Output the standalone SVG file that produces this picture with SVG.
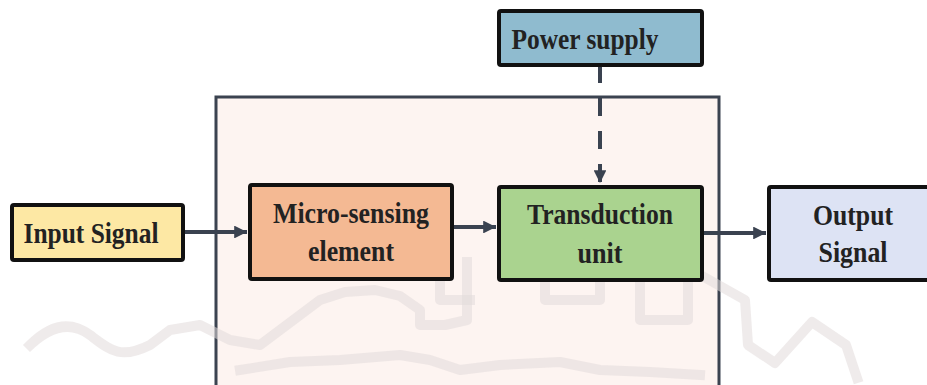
<svg xmlns="http://www.w3.org/2000/svg" width="927" height="385" viewBox="0 0 927 385">
  <style>
    .box { stroke: #111111; stroke-width: 4; }
    .lbl { font-family: "Liberation Serif", "Times New Roman", serif; font-weight: bold; font-size: 30px; fill: #222222; text-anchor: middle; }
    .conn { stroke: #3a4250; stroke-width: 4; fill: none; }
    .wm { stroke: #e2dada; stroke-width: 10; fill: none; stroke-linejoin: round; stroke-linecap: square; opacity: 0.55; }
  </style>
  <defs>
    <marker id="arrow" viewBox="0 0 10 10" refX="10" refY="5" markerWidth="3.2" markerHeight="3.2" orient="auto" markerUnits="strokeWidth">
      <path d="M0,0 L10,5 L0,10 Z" fill="#3a4250"/>
    </marker>
  </defs>
  <rect width="927" height="385" fill="#ffffff"/>

  <g id="container">
    <rect x="216" y="97" width="503" height="290" fill="#fdf4f1" stroke="#3b4350" stroke-width="3"/>
  </g>

  <g id="watermark">
    <path class="wm" d="M 30 345 C 50 325, 70 320, 90 335 S 120 360, 150 345 L 170 330 L 200 325 L 230 340 L 260 345 L 280 330 L 300 315 L 320 300 L 345 292 L 375 290 L 400 296 L 420 310 L 420 325 L 445 325 L 467 320 L 467 262"/>
    <path class="wm" d="M 440 262 L 440 300 L 470 300 M 545 262 L 545 300 L 600 300 L 600 262 M 640 262 L 640 320 L 688 320 L 688 268 L 745 300 L 748 345 L 775 363 L 812 322 L 846 345 L 857 378"/>
    <path class="wm" d="M 240 370 L 290 362 L 340 360 L 400 355 L 430 360 L 460 370 L 500 365 L 560 362 L 600 370 L 650 372 L 700 375"/>
  </g>

  <g id="connectors">
    <line class="conn" x1="183" y1="232" x2="247" y2="232" marker-end="url(#arrow)"/>
    <line class="conn" x1="452" y1="227" x2="496" y2="227" marker-end="url(#arrow)"/>
    <line class="conn" x1="702" y1="233" x2="766" y2="233" marker-end="url(#arrow)"/>
    <line class="conn" x1="600" y1="65" x2="600" y2="183" stroke-dasharray="18 15" marker-end="url(#arrow)"/>
  </g>

  <g id="input-signal">
    <rect class="box" x="12" y="205" width="171" height="55" rx="2" fill="#fde8a4"/>
    <text class="lbl" x="91" y="243" textLength="135" lengthAdjust="spacingAndGlyphs">Input Signal</text>
  </g>

  <g id="micro-sensing">
    <rect class="box" x="250" y="185" width="202" height="94" rx="2" fill="#f4b993"/>
    <text class="lbl" x="351" y="223" textLength="156" lengthAdjust="spacingAndGlyphs">Micro-sensing</text>
    <text class="lbl" x="351" y="261" textLength="86" lengthAdjust="spacingAndGlyphs">element</text>
  </g>

  <g id="transduction">
    <rect class="box" x="499" y="187" width="203" height="93" rx="2" fill="#aad38f"/>
    <text class="lbl" x="600" y="224" textLength="146" lengthAdjust="spacingAndGlyphs">Transduction</text>
    <text class="lbl" x="600" y="263" textLength="45" lengthAdjust="spacingAndGlyphs">unit</text>
  </g>

  <g id="power-supply">
    <rect class="box" x="499" y="11" width="203" height="54" rx="2" fill="#8fbbcf"/>
    <text class="lbl" x="585" y="49" textLength="147" lengthAdjust="spacingAndGlyphs">Power supply</text>
  </g>

  <g id="output-signal">
    <rect class="box" x="769" y="187" width="170" height="93" rx="2" fill="#dde3f4"/>
    <text class="lbl" x="853" y="225" textLength="80" lengthAdjust="spacingAndGlyphs">Output</text>
    <text class="lbl" x="853" y="262" textLength="69" lengthAdjust="spacingAndGlyphs">Signal</text>
  </g>
</svg>
